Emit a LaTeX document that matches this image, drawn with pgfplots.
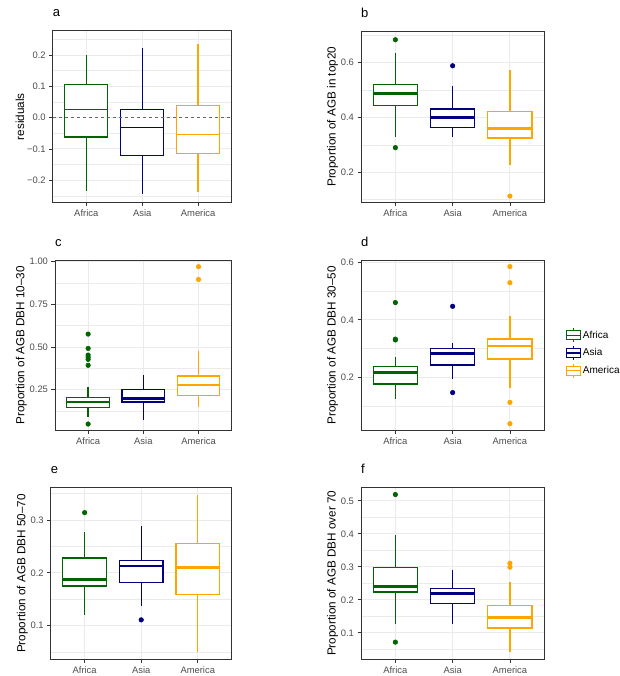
\documentclass[border=0pt]{standalone}
\usepackage{fontspec}
\setmainfont{Liberation Sans}
\usepackage{pgfplots}
\pgfplotsset{compat=1.18}
\usepgfplotslibrary{statistics}
\definecolor{afr}{RGB}{0,100,0}
\definecolor{asi}{RGB}{0,0,128}
\definecolor{ame}{RGB}{255,165,0}
\definecolor{grid92}{RGB}{235,235,235}
\definecolor{grey30}{RGB}{77,77,77}
\definecolor{grey20}{RGB}{51,51,51}
\pgfplotsset{
  panel/.style={
    scale only axis,
    xmin=0.4, xmax=3.6,
    xtick={1,2,3}, xticklabels={Africa,Asia,America},
    axis line style={draw=grey20, line width=0.9pt},
    tick style={draw=grey20, line width=0.8pt},
    tick align=outside, tick pos=left,
    major tick length=3.5pt, minor tick length=0pt,
    xmajorgrids, ymajorgrids, yminorgrids,
    major grid style={draw=grid92, line width=0.9pt},
    minor grid style={draw=grid92, line width=0.5pt},
    ticklabel style={font=\fontsize{9.4}{10}\selectfont, text=grey30},
    ylabel style={font=\fontsize{11.7}{13}\selectfont, text=black},
    ylabel shift=-4pt,
    title style={at={(0,1)}, anchor=base west, yshift=7.8pt, inner sep=0pt, font=\fontsize{13}{13}\selectfont},
    boxplot/draw direction=y,
  },
  bp/.style n args={2}{forget plot, draw=#1, fill=white, line width=1.2pt, solid,
    mark=*, mark size=2.3pt, mark options={draw=#1, fill=#1, solid, line width=0.5pt},
    boxplot/draw direction=y,
    boxplot/every whisker/.style={draw=#1, line width=1.4pt, solid},
    boxplot/every median/.style={line width=#2}},
  lgbox/.style={legend image code/.code={
    \draw (7pt,-7pt) -- (7pt,7pt);
    \filldraw[fill=white] (0pt,-4.5pt) rectangle (14pt,4.5pt);
    \draw (0pt,0pt) -- (14pt,0pt);}},
}
\begin{document}
\begin{tikzpicture}
\path[use as bounding box] (0,0) rectangle (619pt,676pt);

% ---------- a ----------
\begin{axis}[panel, at={(52.7pt,473.3pt)}, anchor=south west, width=179pt, height=172pt,
  ymin=-0.272, ymax=0.278,
  ytick={-0.2,-0.1,0,0.1,0.2}, yticklabels={−0.2,−0.1,0.0,0.1,0.2},
  minor ytick={-0.25,-0.15,-0.05,0.05,0.15,0.25},
  ylabel={residuals}, title={a}]
\addplot[bp={afr}{1.3pt}, boxplot prepared={draw position=1, median=0.025, upper quartile=0.105, lower quartile=-0.062, upper whisker=0.2, lower whisker=-0.235, box extend=0.77, whisker extend=0}] coordinates {};
\addplot[bp={asi}{1.0pt}, boxplot prepared={draw position=2, median=-0.03, upper quartile=0.025, lower quartile=-0.12, upper whisker=0.222, lower whisker=-0.245, box extend=0.77, whisker extend=0}] coordinates {};
\addplot[bp={ame}{1.3pt}, boxplot prepared={draw position=3, median=-0.055, upper quartile=0.04, lower quartile=-0.115, upper whisker=0.237, lower whisker=-0.237, box extend=0.77, whisker extend=0}] coordinates {};
\addplot[forget plot, dashed, draw=black!60, line width=1.1pt] coordinates {(0.4,0) (3.6,0)};
\end{axis}

% ---------- b ----------
\begin{axis}[panel, at={(361pt,473.3pt)}, anchor=south west, width=183.3pt, height=171.7pt,
  ymin=0.089, ymax=0.716,
  ytick={0.2,0.4,0.6}, yticklabels={0.2,0.4,0.6},
  minor ytick={0.1,0.3,0.5,0.7},
  ylabel={Proportion of AGB in top20}, title={b}]
\addplot[bp={afr}{2.7pt}, boxplot prepared={draw position=1, median=0.488, upper quartile=0.52, lower quartile=0.443, upper whisker=0.636, lower whisker=0.328, box extend=0.77, whisker extend=0}] table[row sep=\\, y index=0] {data\\ 0.684\\ 0.29\\};
\addplot[bp={asi}{2.7pt}, boxplot prepared={draw position=2, median=0.4, upper quartile=0.431, lower quartile=0.365, upper whisker=0.515, lower whisker=0.328, box extend=0.77, whisker extend=0}] table[row sep=\\, y index=0] {data\\ 0.589\\};
\addplot[bp={ame}{2.7pt}, boxplot prepared={draw position=3, median=0.359, upper quartile=0.423, lower quartile=0.325, upper whisker=0.573, lower whisker=0.226, box extend=0.77, whisker extend=0}] table[row sep=\\, y index=0] {data\\ 0.113\\};
\end{axis}

% ---------- c ----------
\begin{axis}[panel, at={(55pt,245.3pt)}, anchor=south west, width=176.7pt, height=170.7pt,
  ymin=0.01, ymax=1.01,
  ytick={0.25,0.5,0.75,1.0}, yticklabels={0.25,0.50,0.75,1.00},
  minor ytick={0.125,0.375,0.625,0.875},
  ylabel={Proportion of AGB DBH 10–30}, title={c}]
\addplot[bp={afr}{2.7pt}, boxplot prepared={draw position=1, median=0.178, upper quartile=0.203, lower quartile=0.145, upper whisker=0.268, lower whisker=0.088, box extend=0.77, whisker extend=0}] table[row sep=\\, y index=0] {data\\ 0.576\\ 0.492\\ 0.453\\ 0.44\\ 0.428\\ 0.393\\ 0.049\\};
\addplot[bp={asi}{2.7pt}, boxplot prepared={draw position=2, median=0.199, upper quartile=0.25, lower quartile=0.178, upper whisker=0.334, lower whisker=0.072, box extend=0.77, whisker extend=0}] coordinates {};
\addplot[bp={ame}{1.8pt}, boxplot prepared={draw position=3, median=0.279, upper quartile=0.33, lower quartile=0.217, upper whisker=0.479, lower whisker=0.15, box extend=0.77, whisker extend=0}] table[row sep=\\, y index=0] {data\\ 0.971\\ 0.896\\};
\end{axis}

% ---------- d ----------
\begin{axis}[panel, at={(361pt,245.3pt)}, anchor=south west, width=183.3pt, height=170.7pt,
  ymin=0.0145, ymax=0.608,
  ytick={0.2,0.4,0.6}, yticklabels={0.2,0.4,0.6},
  minor ytick={0.1,0.3,0.5},
  ylabel={Proportion of AGB DBH 30–50}, title={d},
  legend style={at={(1.1,0.455)}, anchor=west, draw=none, fill=none,
    font=\fontsize{10}{12}\selectfont, row sep=2.5pt},
  legend cell align=left]
\addlegendimage{draw=afr, line width=1.1pt, lgbox}
\addlegendentry{Africa}
\addlegendimage{draw=asi, line width=1.1pt, lgbox}
\addlegendentry{Asia}
\addlegendimage{draw=ame, line width=1.1pt, lgbox}
\addlegendentry{America}
\addplot[bp={afr}{2.7pt}, boxplot prepared={draw position=1, median=0.217, upper quartile=0.237, lower quartile=0.177, upper whisker=0.272, lower whisker=0.123, box extend=0.77, whisker extend=0}] table[row sep=\\, y index=0] {data\\ 0.46\\ 0.333\\ 0.33\\};
\addplot[bp={asi}{2.7pt}, boxplot prepared={draw position=2, median=0.283, upper quartile=0.301, lower quartile=0.243, upper whisker=0.321, lower whisker=0.193, box extend=0.77, whisker extend=0}] table[row sep=\\, y index=0] {data\\ 0.447\\ 0.147\\};
\addplot[bp={ame}{2.7pt}, boxplot prepared={draw position=3, median=0.309, upper quartile=0.333, lower quartile=0.264, upper whisker=0.414, lower whisker=0.162, box extend=0.77, whisker extend=0}] table[row sep=\\, y index=0] {data\\ 0.585\\ 0.529\\ 0.113\\ 0.039\\};
\end{axis}

% ---------- e ----------
\begin{axis}[panel, at={(50.7pt,16.7pt)}, anchor=south west, width=181pt, height=171.6pt,
  ymin=0.0363, ymax=0.3612,
  ytick={0.1,0.2,0.3}, yticklabels={0.1,0.2,0.3},
  minor ytick={0.05,0.15,0.25,0.35},
  ylabel={Proportion of AGB DBH 50–70}, title={e}]
\addplot[bp={afr}{2.7pt}, boxplot prepared={draw position=1, median=0.188, upper quartile=0.228, lower quartile=0.175, upper whisker=0.277, lower whisker=0.121, box extend=0.77, whisker extend=0}] table[row sep=\\, y index=0] {data\\ 0.314\\};
\addplot[bp={asi}{2.7pt}, boxplot prepared={draw position=2, median=0.213, upper quartile=0.224, lower quartile=0.181, upper whisker=0.288, lower whisker=0.138, box extend=0.77, whisker extend=0}] table[row sep=\\, y index=0] {data\\ 0.111\\};
\addplot[bp={ame}{2.7pt}, boxplot prepared={draw position=3, median=0.210, upper quartile=0.255, lower quartile=0.159, upper whisker=0.347, lower whisker=0.051, box extend=0.77, whisker extend=0}] coordinates {};
\end{axis}

% ---------- f ----------
\begin{axis}[panel, at={(361pt,16.7pt)}, anchor=south west, width=183.3pt, height=172pt,
  ymin=0.020, ymax=0.541,
  ytick={0.1,0.2,0.3,0.4,0.5}, yticklabels={0.1,0.2,0.3,0.4,0.5},
  minor ytick={0.05,0.15,0.25,0.35,0.45},
  ylabel={Proportion of AGB DBH over 70}, title={f}]
\addplot[bp={afr}{2.7pt}, boxplot prepared={draw position=1, median=0.241, upper quartile=0.299, lower quartile=0.224, upper whisker=0.395, lower whisker=0.126, box extend=0.77, whisker extend=0}] table[row sep=\\, y index=0] {data\\ 0.519\\ 0.072\\};
\addplot[bp={asi}{2.7pt}, boxplot prepared={draw position=2, median=0.220, upper quartile=0.234, lower quartile=0.188, upper whisker=0.289, lower whisker=0.126, box extend=0.77, whisker extend=0}] coordinates {};
\addplot[bp={ame}{2.7pt}, boxplot prepared={draw position=3, median=0.147, upper quartile=0.184, lower quartile=0.115, upper whisker=0.255, lower whisker=0.043, box extend=0.77, whisker extend=0}] table[row sep=\\, y index=0] {data\\ 0.311\\ 0.299\\};
\end{axis}
\end{tikzpicture}
\end{document}
